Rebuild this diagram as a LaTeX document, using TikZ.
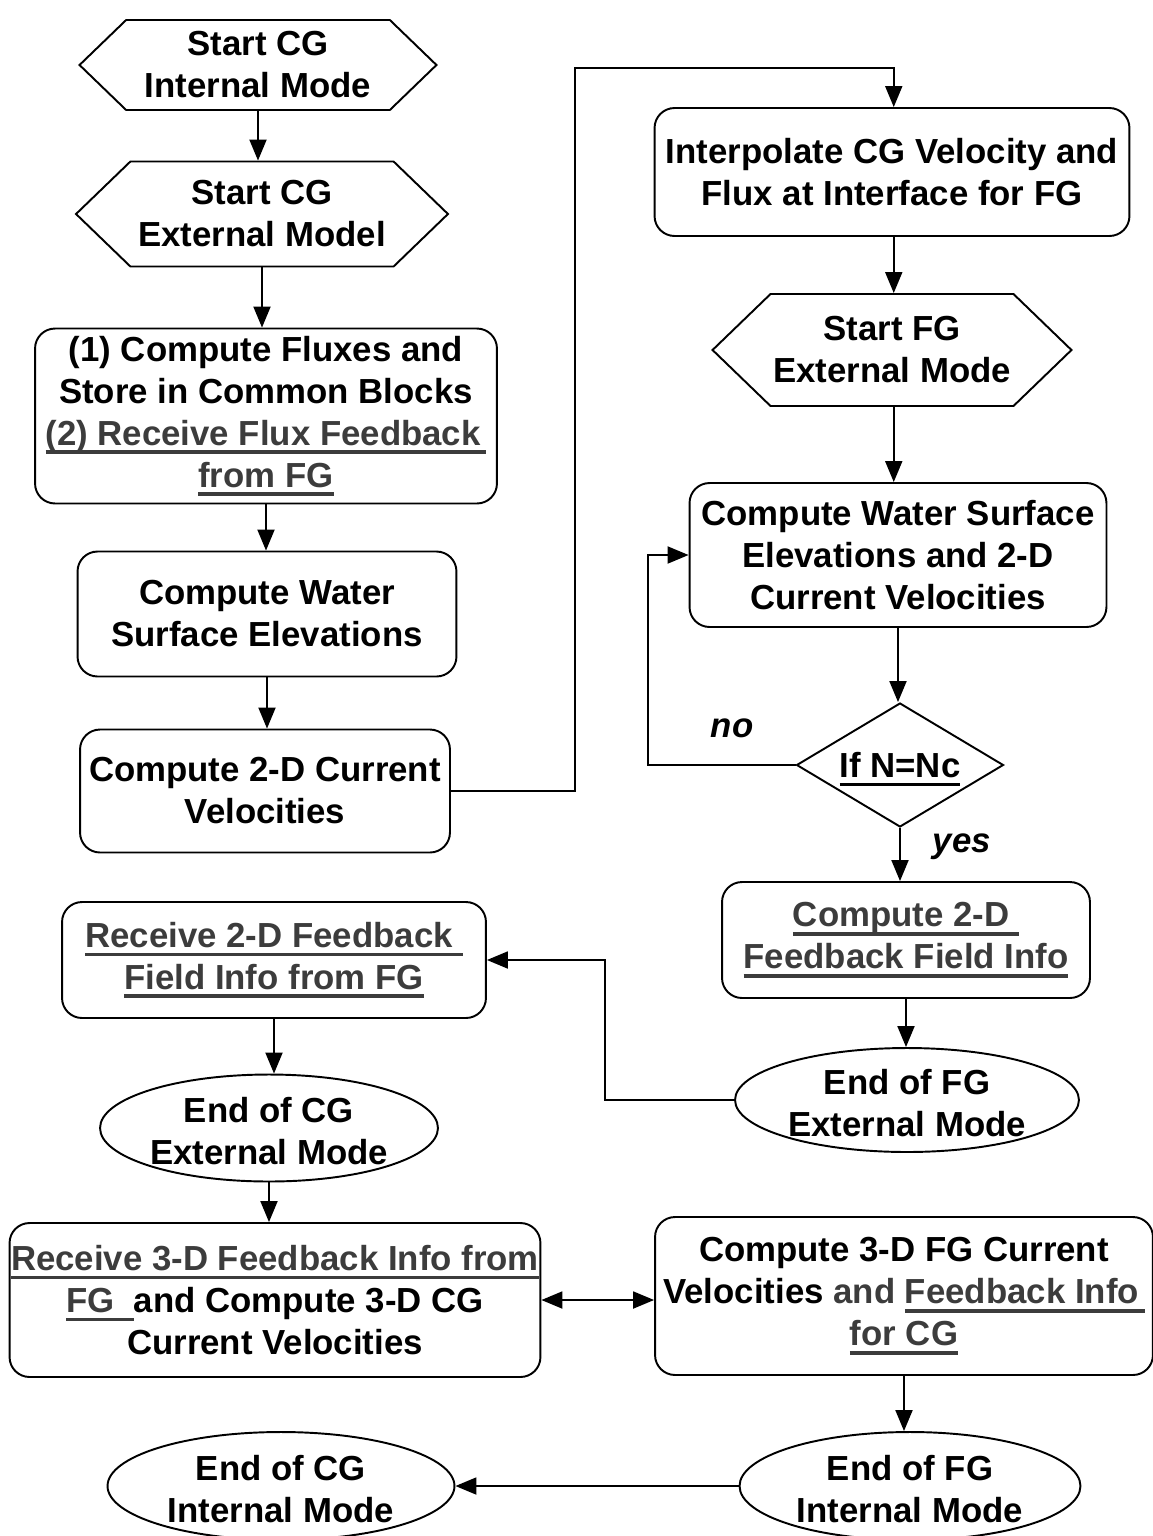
\documentclass[tikz,border=0pt]{standalone}
\usepackage{fontspec}
\setmainfont{Liberation Sans}
\usetikzlibrary{arrows.meta,shapes.geometric,shapes.symbols}
\definecolor{fbgray}{HTML}{3C3C3C}
\newcommand{\fbline}[1]{\setbox0\hbox{#1}\rlap{\rule[-5pt]{\wd0}{2pt}}\box0}
\newcommand{\fb}[1]{\textcolor{fbgray}{\fbline{#1}}}
\newcommand{\ovaltext}[2]{\smash{\raisebox{-9pt}{\begin{tabular}{@{}c@{}}#1\\#2\end{tabular}}}}

\begin{document}
\begin{tikzpicture}[x=0.02cm,y=-0.02cm,line width=1.1pt,>={Triangle[length=0.42cm,width=0.34cm]},
  every node/.style={font=\bfseries\fontsize{19.8}{23.9}\selectfont,align=center,line width=1.1pt},
  box/.style={draw,rounded corners=0.4cm,inner sep=0pt},
  hexa/.style={draw,signal,signal to=west and east,signal pointer angle=88,inner sep=0pt},
  oval/.style={draw,ellipse,inner sep=0pt},
  test/.style={draw,diamond,inner sep=0pt,aspect=1.67}]
\useasboundingbox (0,0) rectangle (1153,1536);
% coarse grid, left column
\node[hexa,minimum width=7.14cm,minimum height=1.8cm] (cgint) at (258,65) {Start CG\\Internal Mode};
\node[hexa,minimum width=7.44cm,minimum height=2.1cm] (cgext) at (262,214) {Start CG\\External Model};
\node[box,minimum width=9.24cm,minimum height=3.5cm] (flux) at (266,416) {(1) Compute Fluxes and\\Store in Common Blocks\\\fb{(2) Receive Flux Feedback\,}\\\fb{from FG}};
\node[box,minimum width=7.58cm,minimum height=2.5cm] (cgwse) at (267,614) {Compute Water\\Surface Elevations};
\node[box,minimum width=7.4cm,minimum height=2.46cm] (cgvel) at (265,791) {Compute 2-D Current\\Velocities};
% fine grid, right column
\node[box,minimum width=9.5cm,minimum height=2.56cm] (interp) at (892,172) {Interpolate CG Velocity and\\Flux at Interface for FG};
\node[hexa,minimum width=7.18cm,minimum height=2.24cm] (fgext) at (892,350) {Start FG\\External Mode};
\node[box,minimum width=8.34cm,minimum height=2.88cm] (fgwse) at (898,555) {Compute Water Surface\\Elevations and 2-D\\Current Velocities};
\node[test,minimum width=4.14cm,minimum height=2.48cm] (check) at (900,765) {\smash{\raisebox{-7pt}{\fbline{If N=Nc}}}};
\node[box,minimum width=7.36cm,minimum height=2.32cm] (fgfb) at (906,940) {\fb{Compute 2-D\ }\\\fb{Feedback Field Info}};
\node[oval,minimum width=6.88cm,minimum height=2.08cm] (fgextend) at (907,1100) {\ovaltext{End of FG}{External Mode}};
% feedback to coarse grid
\node[box,minimum width=8.48cm,minimum height=2.32cm] (cgfb) at (274,960) {\fb{Receive 2-D Feedback\ }\\\fb{Field Info from FG}};
\node[oval,minimum width=6.76cm,minimum height=2.14cm] (cgextend) at (269,1128) {\ovaltext{End of CG}{External Mode}};
\node[box,minimum width=10.62cm,minimum height=3.08cm] (cg3d) at (275,1300) {\fb{Receive 3-D Feedback Info from}\\\fb{FG\ \ }and Compute 3-D CG\\Current Velocities};
\node[box,minimum width=9.96cm,minimum height=3.16cm] (fg3d) at (904,1296) {Compute 3-D FG Current\\Velocities \textcolor{fbgray}{and} \fb{Feedback Info\,}\\\fb{for CG}};
\node[oval,minimum width=6.82cm,minimum height=2.16cm] (fgintend) at (910,1486) {\ovaltext{End of FG}{Internal Mode}};
\node[oval,minimum width=6.94cm,minimum height=2.16cm] (cgintend) at (281,1486) {\ovaltext{End of CG}{Internal Mode}};
\coordinate (topbend) at (575,68);
\coordinate (noloop) at (648,0);
\coordinate (fbloop) at (605,0);
% connectors
\draw[->] (cgint.south) -- (cgint.south |- cgext.north);
\draw[->] (cgext.south) -- (cgext.south |- flux.north);
\draw[->] (flux.south) -- (flux.south |- cgwse.north);
\draw[->] (cgwse.south) -- (cgwse.south |- cgvel.north);
\draw[->] (cgvel.east) -| (topbend) -| ([xshift=1]interp.north);
\draw[->] ([xshift=1]interp.south) -- ([xshift=1]interp.south |- fgext.north);
\draw[->] ([xshift=1]fgext.south) -- ([xshift=1]fgext.south |- fgwse.north);
\draw[->] (fgwse.south) -- (fgwse.south |- check.north);
\draw[->] (check.west) -- (check.west -| noloop) |- (fgwse.west);
\draw[->] (check.south) -- (check.south |- fgfb.north);
\draw[->] (fgfb.south) -- (fgfb.south |- fgextend.north);
\draw[->] (fgextend.west) -- (fgextend.west -| fbloop) |- (cgfb.east);
\draw[->] (cgfb.south) -- (cgfb.south |- cgextend.north);
\draw[->] (cgextend.south) -- (cgextend.south |- cg3d.north);
\draw[<->] (cg3d.east) -- (cg3d.east -| fg3d.west);
\draw[->] (fg3d.south) -- (fg3d.south |- fgintend.north);
\draw[->] (fgintend.west) -- (cgintend.east);
\node[font=\bfseries\itshape\fontsize{19.8}{23.9}\selectfont] (nolab) at (732,728) {no};
\node[font=\bfseries\itshape\fontsize{19.8}{23.9}\selectfont] (yeslab) at (962,847) {yes};
\end{tikzpicture}
\end{document}
